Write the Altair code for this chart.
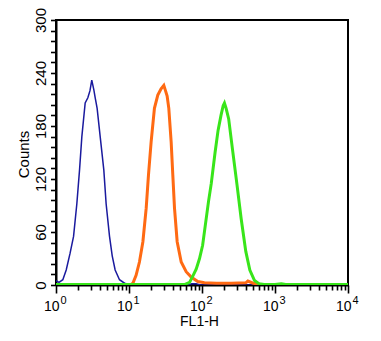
import altair as alt
import pandas as pd

# FL1-H channel values and counts
blue_x = [1.0, 1.1, 1.24, 1.38, 1.56, 1.74, 1.93, 2.1, 2.26, 2.51, 2.73, 2.92, 3.09, 3.3, 3.44, 3.66,
          4.03, 4.52, 4.86, 5.41, 5.89, 6.46, 7.41, 8.71, 10.0, 15.8, 63.1, 72.4, 83.2, 95.5, 126, 1000, 10000]
blue_y = [5, 3, 6, 17, 36, 55, 92, 130, 168, 206, 212, 220, 232, 221, 212, 200,
          168, 130, 92, 55, 33, 17, 6, 2, 0.5, 0, 0, 1.5, 1.5, 0, 0, 0, 0]

orange_x = [10.0, 10.7, 11.3, 12.5, 13.9, 15.5, 17.2, 18.5, 20.1, 22.3, 24.8, 27.5, 30.0, 31.6, 33.3,
            35.1, 37.8, 39.8, 42.0, 45.7, 51.9, 60.7, 71.1, 87.5, 108, 158, 251, 398, 425, 501, 631, 1000, 10000]
orange_y = [0, 0.5, 2, 11, 26, 49, 87, 125, 162, 200, 215, 222, 226, 220, 214,
            200, 162, 125, 87, 49, 26, 15, 9, 4, 2.5, 2, 2, 2.5, 4.5, 2, 0.5, 0, 0]

green_x = [1.0, 10, 31.6, 57.5, 67.6, 74.8, 83.2, 92.5, 102, 112, 123, 134, 151, 166, 182, 195, 203,
           214, 232, 264, 302, 344, 398, 452, 524, 603, 708, 1000, 1220, 1400, 10000]
green_y = [0.5, 0.5, 0.5, 0.5, 3, 10, 18, 30, 45, 70, 95, 115, 150, 175, 192, 203, 206,
           200, 188, 151, 113, 75, 38, 17, 5, 1.5, 0.5, 0.5, 1.5, 0.5, 0.5]

decades = [1, 10, 100, 1000, 10000]
exponents = ["0", "1", "2", "3", "4"]
x_ticks = [m * 10 ** k for k in range(4) for m in range(1, 10)] + [10000]
y_ticks = list(range(0, 301, 12))

FONT = "Liberation Sans"
W, H = 292, 265

xscale = alt.Scale(type="log", domain=[1, 10000], nice=False)
yscale = alt.Scale(domain=[0, 300], nice=False)

xaxis = alt.Axis(
    values=x_ticks, labels=False, grid=False, title="FL1-H",
    tickSize={"condition": {"test": "indexof([1,10,100,1000,10000], datum.value) >= 0", "value": 8}, "value": 5},
    tickWidth=1.6, tickColor="black", domainColor="black", domainWidth=2,
    titleFontSize=14, titleFontWeight="normal", titleColor="black", titleFont=FONT,
    titleX=143, titleY=40, titleBaseline="alphabetic", titleAlign="center",
)
yaxis = alt.Axis(
    values=y_ticks, grid=False, labelExpr="datum.value % 60 == 0 ? datum.label : ''",
    labelAngle=270, labelAlign="center", labelBaseline="alphabetic", labelPadding=5,
    labelFontSize=15, labelFont=FONT, labelColor="black", tickSize=5.5, tickWidth=1.6,
    tickColor="black", domainColor="black", domainWidth=2,
    title="Counts", titleFontSize=15, titleFontWeight="normal", titleColor="black", titleFont=FONT,
    titleAngle=270, titleX=-28, titleY=134, titleBaseline="alphabetic", titleAlign="center",
)


def curve(xs, ys, color, width):
    df = pd.DataFrame({"x": xs, "y": ys})
    return alt.Chart(df).mark_line(color=color, strokeWidth=width, clip=True).encode(
        x=alt.X("x:Q", scale=xscale, axis=xaxis),
        y=alt.Y("y:Q", scale=yscale, axis=yaxis),
    )


blue = curve(blue_x, blue_y, "#1a1a9e", 1.5)
orange = curve(orange_x, orange_y, "#ff6a13", 3)
green = curve(green_x, green_y, "#38e51a", 3)

lab = pd.DataFrame({"x": decades, "e": exponents, "t": ["10"] * 5})
tens = alt.Chart(lab).mark_text(
    align="right", baseline="alphabetic", dx=3.5, fontSize=14, font=FONT, color="black"
).encode(x=alt.X("x:Q", scale=xscale, axis=xaxis), y=alt.value(H + 26), text="t:N")
sups = alt.Chart(lab).mark_text(
    align="left", baseline="alphabetic", dx=4.5, fontSize=11, font=FONT, color="black"
).encode(x=alt.X("x:Q", scale=xscale, axis=xaxis), y=alt.value(H + 19.3), text="e:N")

chart = alt.layer(blue, orange, green, tens, sups).properties(
    width=W, height=H,
    autosize=alt.AutoSizeParams(type="none"),
    padding={"left": 48, "top": 12, "right": 25, "bottom": 48},
).configure_view(stroke="black", strokeWidth=2)

chart.save("out.html", embed_options={"renderer": "svg", "actions": False})
